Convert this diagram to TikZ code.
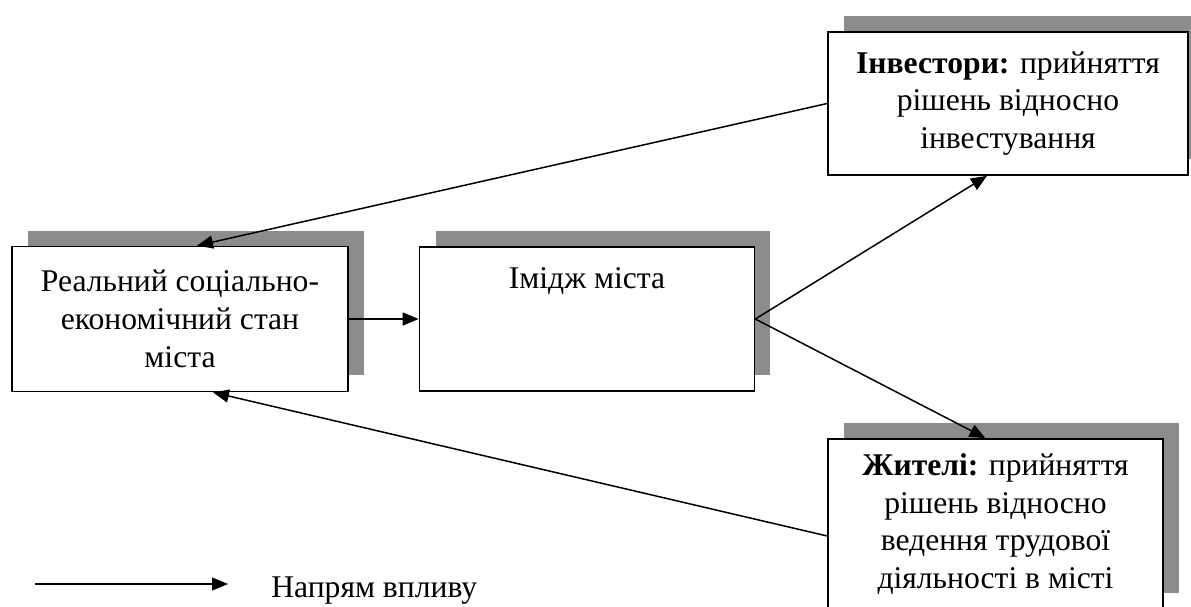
\documentclass[tikz,border=0pt]{standalone}
\usepackage{fontspec}
\setmainfont{Liberation Serif}
\usetikzlibrary{arrows.meta,shadows}
\tikzset{
  box/.style={draw,line width=1pt,fill=white,align=center,
    font=\fontsize{18}{21.5}\selectfont,inner sep=0pt,
    drop shadow={shadow xshift=0.32cm,shadow yshift=0.32cm,fill=black!45,opacity=1}},
  conn/.style={line width=0.85pt,-{Triangle[length=0.32cm,width=0.26cm]}}
}
\begin{document}
\begin{tikzpicture}[x=0.02cm,y=0.02cm]
\useasboundingbox (0,0) rectangle (1191,606);
\node[box,minimum width=6.72cm,minimum height=2.9cm] (real) at (180,287) {Реальний соціально-\\економічний стан\\міста};
\node[box,minimum width=6.7cm,text height=0.82cm,text depth=2.06cm] (image) at (587,287) {Імідж міста};
\node[box,minimum width=7.2cm,minimum height=2.86cm] (invest) at (1008,502.5) {\textbf{Інвестори:} прийняття\\рішень відносно\\інвестування};
\node[box,minimum width=6.7cm,minimum height=3.4cm] (resid) at (995.5,82) {\textbf{Жителі:} прийняття\\рішень відносно\\ведення трудової\\діяльності в місті};
% influence arrows
\draw[conn] (real.east) -- (real.east -| image.west);
\draw[conn] (image.east) -- ([xshift=-0.42cm]invest.south);
\draw[conn] (image.east) -- ([xshift=-0.2cm]resid.north);
\draw[conn] (invest.west) -- ([xshift=0.34cm]real.north);
\draw[conn] ([yshift=-0.24cm]resid.west) -- ([xshift=0.66cm]real.south);
% legend
\coordinate (lgstart) at (35,22);
\coordinate (lgend) at (228,22);
\draw[conn] (lgstart) -- (lgend);
\node[anchor=base west,inner sep=0pt,font=\fontsize{18}{21.5}\selectfont] (lgtext) at (271,9) {Напрям впливу};
\end{tikzpicture}
\end{document}
